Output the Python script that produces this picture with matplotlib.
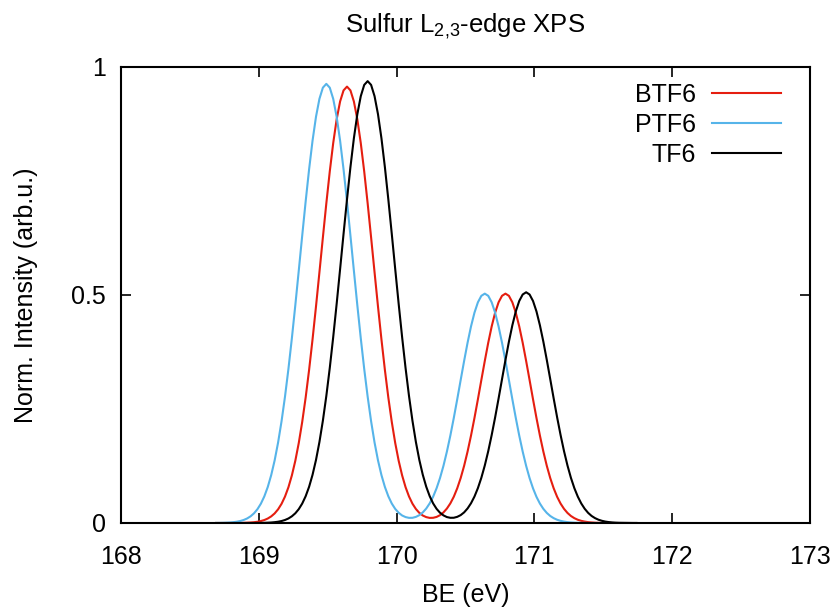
import numpy as np
import matplotlib
matplotlib.use('Agg')
import matplotlib.pyplot as plt

plt.rcParams['font.family'] = ['Liberation Sans', 'DejaVu Sans']
plt.rcParams['mathtext.fontset'] = 'custom'
plt.rcParams['mathtext.rm'] = 'Liberation Sans'
plt.rcParams['mathtext.it'] = 'Liberation Sans'

# binding energy grid (eV): 168.69 ... 171.74, 0.025 eV step, 123 points
be = np.round(168.69 + 0.025 * np.arange(123), 3)

btf6 = [0, 0, 0, 0, 0, 0,
        0.0001, 0.0002, 0.0004, 0.0007, 0.0011, 0.0017, 0.0027, 0.0043, 0.0065, 0.0098,
        0.0145, 0.0210, 0.0300, 0.0420, 0.0579, 0.0784, 0.1044, 0.1365, 0.1754, 0.2216,
        0.2751, 0.3357, 0.4027, 0.4746, 0.5499, 0.6261, 0.7008, 0.7708, 0.8332, 0.8853,
        0.9244, 0.9487,
        0.9570, 0.9487, 0.9244, 0.8853, 0.8332, 0.7708, 0.7008, 0.6261, 0.5499, 0.4746,
        0.4027, 0.3357, 0.2751, 0.2216,
        0.1754, 0.1365, 0.1045, 0.0786, 0.0582, 0.0424, 0.0307, 0.0222, 0.0164, 0.0129,
        0.0112, 0.0114, 0.0133, 0.0171, 0.0232, 0.0317, 0.0430, 0.0576, 0.0761, 0.0986,
        0.1254, 0.1566, 0.1917, 0.2303, 0.2713, 0.3136, 0.3554, 0.3953, 0.4311, 0.4612,
        0.4840, 0.4982, 0.5030,
        0.4982, 0.4840, 0.4612, 0.4311, 0.3953, 0.3554, 0.3136, 0.2713, 0.2303, 0.1917,
        0.1566, 0.1254, 0.0985, 0.0760, 0.0574, 0.0426, 0.0310, 0.0221, 0.0154, 0.0106,
        0.0071, 0.0047, 0.0031, 0.0019, 0.0012, 0.0007, 0.0004, 0.0003, 0.0002, 0.0001,
        0.0000, 0.0000,
        0, 0, 0, 0, 0, 0]

ptf6 = [0.0001, 0.0002, 0.0004, 0.0007, 0.0011, 0.0018, 0.0028, 0.0043, 0.0066, 0.0099,
        0.0146, 0.0212, 0.0302, 0.0423, 0.0583, 0.0789, 0.1050, 0.1373, 0.1765, 0.2230,
        0.2769, 0.3378, 0.4052, 0.4776, 0.5534, 0.6301, 0.7051, 0.7756, 0.8384, 0.8908,
        0.9302, 0.9547,
        0.9630, 0.9547, 0.9302, 0.8908, 0.8384, 0.7756, 0.7051, 0.6301, 0.5534, 0.4776,
        0.4052, 0.3378, 0.2769, 0.2230,
        0.1765, 0.1373, 0.1051, 0.0791, 0.0586, 0.0427, 0.0309, 0.0224, 0.0165, 0.0130,
        0.0113, 0.0114, 0.0134, 0.0172, 0.0232, 0.0317, 0.0430, 0.0576, 0.0761, 0.0986,
        0.1254, 0.1566, 0.1917, 0.2303, 0.2713, 0.3136, 0.3554, 0.3953, 0.4311, 0.4612,
        0.4840, 0.4982, 0.5030,
        0.4982, 0.4840, 0.4612, 0.4311, 0.3953, 0.3554, 0.3136, 0.2713, 0.2303, 0.1917,
        0.1566, 0.1254, 0.0985, 0.0760, 0.0574, 0.0426, 0.0310, 0.0221, 0.0154, 0.0106,
        0.0071, 0.0047, 0.0031, 0.0019, 0.0012, 0.0007, 0.0004, 0.0003, 0.0002, 0.0001,
        0.0000, 0.0000,
        0, 0, 0, 0, 0, 0, 0, 0, 0, 0, 0, 0]

tf6 = [0, 0, 0, 0, 0, 0, 0, 0, 0, 0, 0, 0,
       0.0001, 0.0002, 0.0004, 0.0007, 0.0011, 0.0018, 0.0028, 0.0043, 0.0066, 0.0099,
       0.0147, 0.0213, 0.0304, 0.0426, 0.0587, 0.0794, 0.1057, 0.1382, 0.1776, 0.2244,
       0.2786, 0.3399, 0.4077, 0.4806, 0.5568, 0.6340, 0.7095, 0.7804, 0.8437, 0.8964,
       0.9360, 0.9607,
       0.9690, 0.9607, 0.9360, 0.8964, 0.8437, 0.7804, 0.7095, 0.6340, 0.5568, 0.4806,
       0.4077, 0.3399, 0.2786, 0.2244,
       0.1776, 0.1382, 0.1058, 0.0796, 0.0590, 0.0430, 0.0311, 0.0225, 0.0167, 0.0130,
       0.0114, 0.0115, 0.0135, 0.0173, 0.0233, 0.0319, 0.0433, 0.0580, 0.0765, 0.0992,
       0.1262, 0.1575, 0.1929, 0.2316, 0.2729, 0.3154, 0.3575, 0.3976, 0.4336, 0.4640,
       0.4869, 0.5011, 0.5060,
       0.5011, 0.4869, 0.4640, 0.4336, 0.3976, 0.3575, 0.3154, 0.2729, 0.2316, 0.1929,
       0.1575, 0.1262, 0.0991, 0.0764, 0.0578, 0.0429, 0.0312, 0.0222, 0.0155, 0.0107,
       0.0072, 0.0048, 0.0031, 0.0020, 0.0012, 0.0007, 0.0004, 0.0003, 0.0002, 0.0001,
       0.0000, 0.0000]

xticks = [168, 169, 170, 171, 172, 173]
yticks = [0, 0.5, 1]
yticklabels = ['0', '0.5', '1']

fig = plt.figure(figsize=(8.35, 6.12), dpi=100)
ax = fig.add_axes([121/835, 1 - 523/612, (810 - 121)/835, (523 - 67)/612])

ax.plot(be, btf6, color='#e51e10', lw=1.5, label='BTF6')
ax.plot(be, ptf6, color='#56b4e9', lw=1.5, label='PTF6')
ax.plot(be, tf6, color='black', lw=1.5, label='TF6')

ax.set_xlim(168, 173)
ax.set_ylim(0, 1)
ax.set_xticks(xticks)
ax.set_yticks(yticks)
ax.set_yticklabels(yticklabels)
ax.tick_params(direction='in', length=7, width=1.2, top=True, right=True,
               labelsize=18)
ax.tick_params(axis='x', pad=16)
ax.tick_params(axis='y', pad=11)
for s in ax.spines.values():
    s.set_linewidth(1.5)

ax.set_title('Sulfur L$_{2{,}3}$-edge XPS', fontsize=18.5, pad=25)
ax.set_xlabel('BE (eV)', fontsize=18, labelpad=10)
ax.set_ylabel('Norm. Intensity (arb.u.)', fontsize=18, labelpad=24)

ax.legend(loc='upper right', bbox_to_anchor=(781/835, 1 - 83/612),
          bbox_transform=fig.transFigure, frameon=False, markerfirst=False,
          fontsize=18, handlelength=2.75, handletextpad=0.65, labelspacing=0.23,
          borderpad=0, borderaxespad=0)

fig.savefig('out.png', dpi=100)
